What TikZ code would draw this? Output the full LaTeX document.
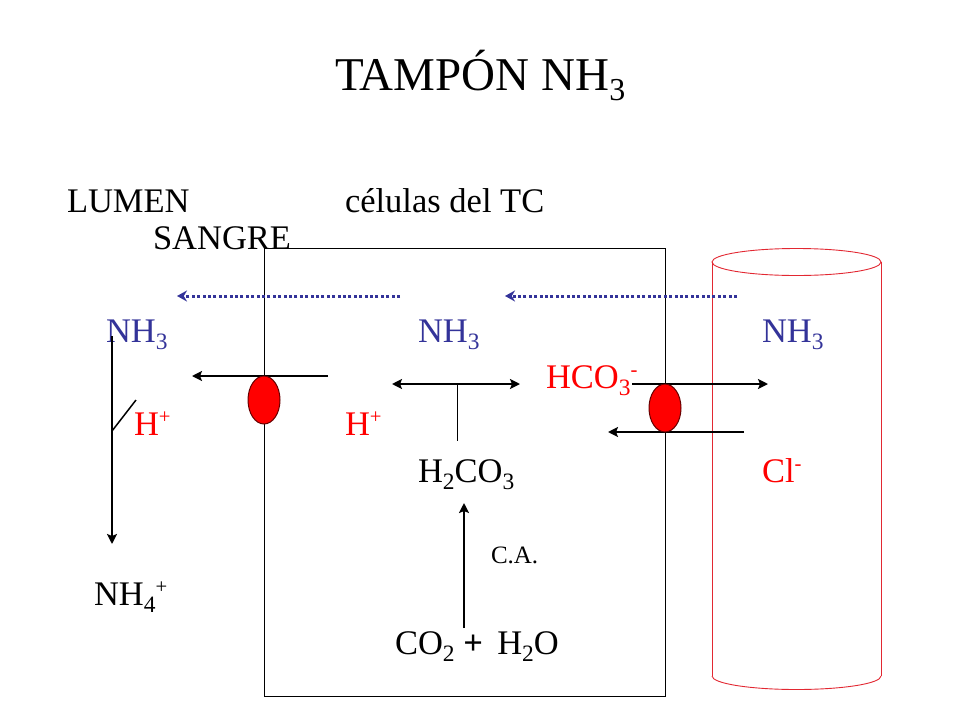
\documentclass[tikz,border=0pt]{standalone}
\usepackage{fontspec}
\setmainfont{Liberation Serif}
\usetikzlibrary{arrows.meta}
\definecolor{nhblue}{RGB}{51,51,153}
\definecolor{vesselred}{RGB}{226,40,50}
\newcommand{\dn}[1]{\raisebox{-0.22em}{\scalebox{0.68}{#1}}}
\newcommand{\up}[1]{\raisebox{0.34em}{\scalebox{0.6}{#1}}}
\tikzset{
  x=1pt,y=-1pt,
  lbl/.style={anchor=base west,inner sep=0pt,outer sep=0pt,font=\fontsize{34.5}{34.5}\selectfont,text=black},
  blue lbl/.style={lbl,text=nhblue},
  red lbl/.style={lbl,text=red},
  thickarrow/.style={line width=2.4pt,-{Stealth[length=10pt,width=10pt,inset=2pt]}},
  dotarrow/.style={line width=3pt,nhblue,dash pattern=on 3pt off 2.4pt,-{Stealth[length=10pt,width=11pt]}},
  memb/.style={line width=0.9pt,black},
  vessel/.style={line width=0.9pt,draw=vesselred},
  pumpoval/.style={draw=black!60!red,fill=red,line width=1pt},
}
\begin{document}
\begin{tikzpicture}
\useasboundingbox (0,0) rectangle (960,720);
% text
\node[lbl,font=\fontsize{47}{47}\selectfont] (title) at (335,90) {TAMPÓN NH\dn{3}};
\node[lbl] (lumen) at (67,212) {LUMEN};
\node[lbl] (cel) at (345,212) {células del TC};
\node[lbl] (sangre) at (153,249) {SANGRE};
% cell
\coordinate (c1) at (264,248); \coordinate (c2) at (665,696);
\draw[memb] (c1) rectangle (c2);
% vessel
\coordinate (v1) at (712,262); \coordinate (v2) at (881,262);
\coordinate (v3) at (712,676); \coordinate (v4) at (881,676);
\draw[vessel] (v3) -- (v1) (v2) -- (v4);
\draw[vessel] (796.5,262) ellipse [x radius=84.5,y radius=13.5];
\draw[vessel] (v3) arc [start angle=180,end angle=360,x radius=84.5,y radius=-13.5];
% dotted arrows
\coordinate (d1s) at (400,296); \coordinate (d1e) at (177,296);
\coordinate (d2s) at (737,296); \coordinate (d2e) at (505,296);
\draw[dotarrow] (d1s) -- (d1e);
\draw[dotarrow] (d2s) -- (d2e);
% labels
\node[blue lbl] (nh1) at (106,342) {NH\dn{3}};
\node[blue lbl] (nh2) at (418,342) {NH\dn{3}};
\node[blue lbl] (nh3) at (762,342) {NH\dn{3}};
\node[red lbl] (hco) at (546,388) {HCO\dn{3}\up{-}};
\node[red lbl] (h1) at (134,435) {H\up{+}};
\node[red lbl] (h2) at (345,435) {H\up{+}};
\node[lbl] (hco3) at (418,482) {H\dn{2}CO\dn{3}};
\node[red lbl] (cl) at (762,482) {Cl\up{-}};
\node[lbl,font=\fontsize{25}{25}\selectfont] (ca) at (491,563) {C.A.};
\node[lbl] (nh4) at (94,605) {NH\dn{4}\up{+}};
\node[lbl] (co2) at (395,654) {CO\dn{2} \textbf{+}\, H\dn{2}O};
% lumen arrow
\coordinate (l1) at (112,336); \coordinate (l2) at (112,544);
\coordinate (t1) at (112,431); \coordinate (t2) at (136,400);
\draw[thickarrow] (l1) -- (l2);
\draw[line width=1.5pt] (t1) -- (t2);
% pump arrows
\coordinate (a1) at (328,376); \coordinate (a2) at (192,376);
\coordinate (b1) at (632,384); \coordinate (b2) at (768,384);
\coordinate (e1) at (744,432); \coordinate (e2) at (608,432);
\draw[thickarrow] (a1) -- (a2);
\draw[thickarrow] (b1) -- (b2);
\draw[thickarrow] (e1) -- (e2);
% reaction
\coordinate (r1) at (392,384); \coordinate (r2) at (520,384);
\coordinate (s1) at (457,384); \coordinate (s2) at (457,441);
\coordinate (u1) at (464,628); \coordinate (u2) at (464,503);
\draw[line width=2.4pt,{Stealth[length=10pt,width=10pt,inset=2pt]}-{Stealth[length=10pt,width=10pt,inset=2pt]}] (r1) -- (r2);
\draw[line width=1pt] (s1) -- (s2);
\draw[thickarrow] (u1) -- (u2);
% pumps
\draw[pumpoval] (264,400) ellipse [x radius=16,y radius=24];
\draw[pumpoval] (665,408) ellipse [x radius=16,y radius=24];
\end{tikzpicture}
\end{document}
